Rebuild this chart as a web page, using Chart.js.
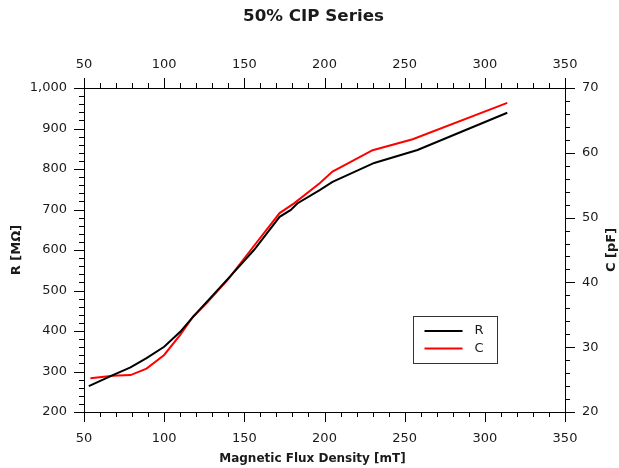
<!DOCTYPE html>
<html><head><meta charset="utf-8">
<script src="https://cdn.jsdelivr.net/npm/chart.js@4/dist/chart.umd.min.js"></script>
<style>html,body{margin:0;padding:0;background:#fff;}#wrap{width:619px;height:468px;}</style>
</head><body><div id="wrap"><canvas id="c" width="619" height="468"></canvas></div>
<script>
const chartTitle = '50% CIP Series';
const xTitle = 'Magnetic Flux Density [mT]';
const yTitle = 'R [MΩ]';
const y1Title = 'C [pF]';
const seriesNames = ['R', 'C'];
const fluxR = [53, 68, 79, 89, 100, 110, 118, 140, 156, 172, 179, 183, 197, 205, 231, 258, 314];
const resistance = [264, 291, 310, 333, 361, 398, 435, 530, 600, 682, 699, 715, 748, 768, 815, 847, 939];
const fluxC = [54, 68, 79, 89, 100, 110, 118, 126.5, 140, 154, 172, 181, 197, 205, 230, 255, 314];
const capacitance = [25.2, 25.6, 25.7, 26.7, 28.8, 31.9, 34.7, 36.8, 40.5, 45.0, 50.7, 52.2, 55.3, 57.1, 60.4, 62.1, 67.7];
const xTicks = {min: 50, max: 350, major: 50, minor: 10};
const yTicks = {min: 200, max: 1000, major: 100, minor: 20};
const y1Ticks = {min: 20, max: 70, major: 10, minor: 2};

const FONT = 'DejaVu Sans';
const TXT = '#1a1a1a';

const tickPlugin = {
  id: 'minorTicks',
  afterDraw(chart) {
    const ctx = chart.ctx, a = chart.chartArea;
    ctx.save();
    ctx.strokeStyle = '#000';
    ctx.lineWidth = 1;
    const draw = (scale, t, pos) => {
      for (let v = t.min; v <= t.max + 1e-9; v += t.minor) {
        const r = v / t.major;
        const isMajor = Math.abs(r - Math.round(r)) < 1e-6;
        const len = isMajor ? 10 : 5;
        const p = Math.round(scale.getPixelForValue(v)) + 0.5;
        ctx.beginPath();
        if (pos === 'bottom') { ctx.moveTo(p, a.bottom); ctx.lineTo(p, a.bottom + len); }
        if (pos === 'top') { ctx.moveTo(p, a.top); ctx.lineTo(p, a.top - len); }
        if (pos === 'left') { ctx.moveTo(a.left, p); ctx.lineTo(a.left - len, p); }
        if (pos === 'right') { ctx.moveTo(a.right, p); ctx.lineTo(a.right + len, p); }
        ctx.stroke();
      }
    };
    draw(chart.scales.x, xTicks, 'bottom');
    draw(chart.scales.x2, xTicks, 'top');
    draw(chart.scales.y, yTicks, 'left');
    draw(chart.scales.y1, y1Ticks, 'right');

    ctx.fillStyle = TXT;
    ctx.textAlign = 'center';
    ctx.textBaseline = 'middle';
    // chart title
    ctx.font = 'bold 16.7px "' + FONT + '"';
    ctx.fillText(chartTitle, chart.width / 2 + 4, 17);
    // x-axis title
    ctx.font = 'bold 12px "' + FONT + '"';
    ctx.fillText(xTitle, chart.width / 2 + 3, chart.scales.x.bottom - 9);
    // right axis title, reading bottom-to-top like the left one
    const s = chart.scales.y1;
    ctx.font = 'bold 13px "' + FONT + '"';
    ctx.translate(s.right - 7.8, (a.top + a.bottom) / 2);
    ctx.rotate(-Math.PI / 2);
    ctx.fillText(y1Title, 0, 0);
    ctx.restore();
  }
};

const legendPlugin = {
  id: 'boxLegend',
  afterDraw(chart) {
    const ctx = chart.ctx, a = chart.chartArea;
    const bx = Math.round(a.left + 0.684 * a.width) + 0.5;
    const by = Math.round(a.top + 0.704 * a.height) + 0.5;
    const bw = 84, bh = 47;
    ctx.save();
    ctx.fillStyle = '#fff';
    ctx.fillRect(bx, by, bw, bh);
    ctx.strokeStyle = '#333';
    ctx.lineWidth = 1;
    ctx.strokeRect(bx, by, bw, bh);
    ctx.font = '13px "' + FONT + '"';
    ctx.textBaseline = 'middle';
    ctx.fillStyle = TXT;
    chart.data.datasets.forEach((ds, i) => {
      const y = by + 14.5 + i * 17.5;
      ctx.strokeStyle = ds.borderColor;
      ctx.lineWidth = 2;
      ctx.beginPath();
      ctx.moveTo(bx + 11, y);
      ctx.lineTo(bx + 49, y);
      ctx.stroke();
      ctx.fillText(ds.label, bx + 61, y);
    });
    ctx.restore();
  }
};

const tickFont = {family: FONT, size: 13};
const titleFont = {family: FONT, size: 13, weight: 'bold'};

new Chart(document.getElementById('c'), {
  type: 'line',
  data: {
    datasets: [
      {label: seriesNames[0], data: fluxR.map((x, i) => ({x, y: resistance[i]})), borderColor: '#000000', backgroundColor: '#000000', borderWidth: 2, pointRadius: 0, tension: 0, xAxisID: 'x', yAxisID: 'y'},
      {label: seriesNames[1], data: fluxC.map((x, i) => ({x, y: capacitance[i]})), borderColor: '#ff0000', backgroundColor: '#ff0000', borderWidth: 2, pointRadius: 0, tension: 0, xAxisID: 'x', yAxisID: 'y1'}
    ]
  },
  options: {
    responsive: false,
    animation: false,
    devicePixelRatio: 1,
    layout: {padding: 0},
    plugins: {
      legend: {display: false},
      tooltip: {enabled: false},
      title: {display: false}
    },
    scales: {
      x: {
        type: 'linear', position: 'bottom', min: xTicks.min, max: xTicks.max,
        ticks: {stepSize: xTicks.major, font: tickFont, color: TXT, padding: 19, maxRotation: 0},
        grid: {display: false, drawTicks: false},
        border: {display: true, color: '#000', width: 1},
        title: {display: false},
        afterFit(s) { s.height = 56; }
      },
      x2: {
        type: 'linear', position: 'top', min: xTicks.min, max: xTicks.max,
        ticks: {stepSize: xTicks.major, font: tickFont, color: TXT, padding: 16, maxRotation: 0},
        grid: {display: false, drawTicks: false},
        border: {display: true, color: '#000', width: 1},
        afterFit(s) { s.height = 88; }
      },
      y: {
        type: 'linear', position: 'left', min: yTicks.min, max: yTicks.max,
        ticks: {stepSize: yTicks.major, font: tickFont, color: TXT, padding: 17},
        grid: {display: false, drawTicks: false},
        border: {display: true, color: '#000', width: 1},
        title: {display: true, text: yTitle, color: TXT, font: titleFont, padding: {top: 8.5, bottom: 0}},
        afterFit(s) { s.width = 84; }
      },
      y1: {
        type: 'linear', position: 'right', min: y1Ticks.min, max: y1Ticks.max,
        ticks: {stepSize: y1Ticks.major, font: tickFont, color: TXT, padding: 17},
        grid: {display: false, drawTicks: false},
        border: {display: true, color: '#000', width: 1},
        title: {display: false},
        afterFit(s) { s.width = 54; }
      }
    }
  },
  plugins: [tickPlugin, legendPlugin]
});
</script>
</body></html>
